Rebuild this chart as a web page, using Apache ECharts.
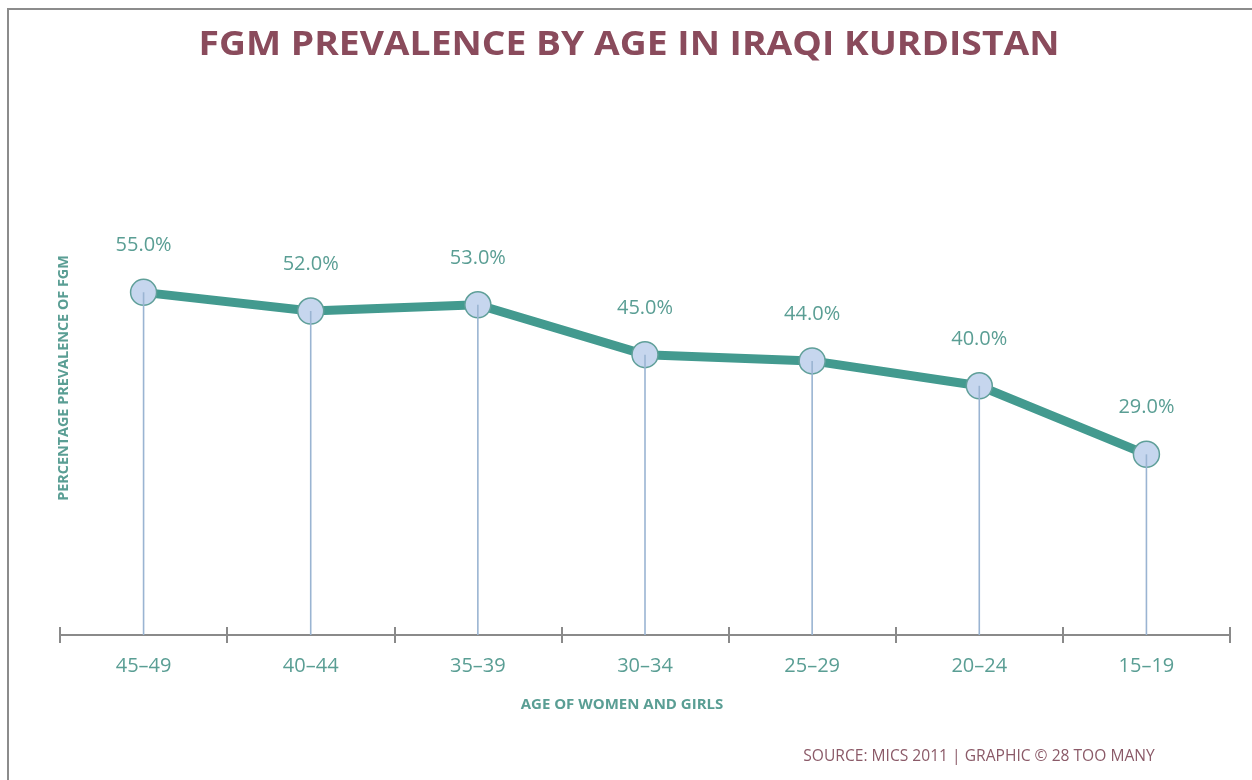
<!DOCTYPE html>
<html>
<head>
<meta charset="utf-8">
<script src="https://cdn.jsdelivr.net/npm/echarts@6/dist/echarts.min.js"></script>
<style>
html,body{margin:0;padding:0;background:#fff;}
#c{width:1252px;height:780px;}
</style>
</head>
<body>
<div id="c"></div>
<script>
var categories = ['45–49','40–44','35–39','30–34','25–29','20–24','15–19'];
var prevalence = [55, 52, 53, 45, 44, 40, 29];
var titleText = 'FGM PREVALENCE BY AGE IN IRAQI KURDISTAN';
var xName = 'AGE OF WOMEN AND GIRLS';
var yName = 'PERCENTAGE PREVALENCE OF FGM';
var sourceText = 'SOURCE: MICS 2011 | GRAPHIC © 28 TOO MANY';

var teal = '#439a8f';
var tealText = '#5a9e94';
var font = '"Open Sans", "Noto Sans", sans-serif';

var chart = echarts.init(document.getElementById('c'));
chart.setOption({
  backgroundColor: '#fff',
  animation: false,
  grid: {left: 60, right: 22, top: 12, bottom: 145},
  xAxis: [{
    type: 'category',
    data: categories,
    axisLine: {lineStyle: {color: '#8a8a8a', width: 2}},
    axisTick: {show: true, length: 8, lineStyle: {color: '#8a8a8a', width: 2}},
    axisLabel: {color: tealText, fontSize: 20, fontFamily: font, margin: 21}
  }, {
    type: 'category',
    data: categories,
    position: 'bottom',
    axisLine: {show: false},
    axisTick: {show: true, inside: true, length: 8, lineStyle: {color: '#8a8a8a', width: 2}},
    axisLabel: {show: false}
  }],
  yAxis: {
    type: 'value', min: 0, max: 100, show: false, splitLine: {show: false}
  },
  series: [{
    type: 'bar',
    data: prevalence,
    barWidth: 1.6,
    itemStyle: {color: '#9ab4d2'},
    z: 5,
    silent: true
  }, {
    type: 'line',
    data: prevalence,
    symbol: 'circle',
    symbolSize: 26,
    z: 3,
    lineStyle: {color: teal, width: 9},
    itemStyle: {color: '#c6d6ee', borderColor: '#5f9f99', borderWidth: 1.5},
    label: {
      show: true, position: 'top', distance: 23,
      formatter: function(p){ return p.value.toFixed(1) + '%'; },
      color: tealText, fontSize: 20, fontFamily: font
    }
  }],
  graphic: [
    {type: 'line', shape: {x1: 7, y1: 9, x2: 1252, y2: 9}, style: {stroke: '#8c8c8c', lineWidth: 2}},
    {type: 'line', shape: {x1: 8, y1: 8, x2: 8, y2: 780}, style: {stroke: '#8c8c8c', lineWidth: 2}},
    {type: 'text', x: 629, y: 45, scaleX: 1.096, style: {text: titleText, fill: '#8a4b5c', font: 'bold 34px ' + font, textAlign: 'center', textVerticalAlign: 'middle'}},
    {type: 'text', x: 622, y: 705, style: {text: xName, fill: tealText, font: 'bold 15px ' + font, textAlign: 'center', textVerticalAlign: 'middle'}},
    {type: 'text', x: 64, y: 378, rotation: Math.PI/2, style: {text: yName, fill: tealText, font: 'bold 14.4px ' + font, textAlign: 'center', textVerticalAlign: 'middle'}},
    {type: 'text', x: 979, y: 757, style: {text: sourceText, fill: '#8b5a68', font: '15.6px ' + font, textAlign: 'center', textVerticalAlign: 'middle'}}
  ]
});
</script>
</body>
</html>
